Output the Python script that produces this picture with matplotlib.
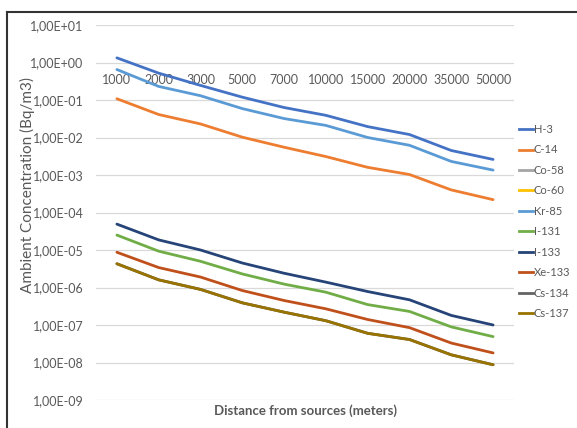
import numpy as np
import matplotlib
matplotlib.use("Agg")
import matplotlib.pyplot as plt
from matplotlib.lines import Line2D

# distances (categories) and concentrations (Bq/m3)
distances = ["1000", "2000", "3000", "5000", "7000", "10000", "15000", "20000", "35000", "50000"]

h3 = [1.33, 0.52, 0.245, 0.119, 0.063, 0.039, 0.0195, 0.012, 0.0045, 0.0026]
c14 = [0.108, 0.041, 0.023, 0.0102, 0.0055, 0.0031, 0.0016, 0.00103, 0.00040, 0.00022]
co58 = [np.nan] * 10
co60 = [np.nan] * 10
kr85 = [0.65, 0.23, 0.13, 0.059, 0.032, 0.021, 0.010, 0.0062, 0.0023, 0.00135]
i131 = [2.5e-5, 9.3e-6, 5.0e-6, 2.3e-6, 1.23e-6, 7.5e-7, 3.5e-7, 2.3e-7, 8.9e-8, 4.9e-8]
i133 = [4.9e-5, 1.86e-5, 1.0e-5, 4.5e-6, 2.4e-6, 1.39e-6, 7.8e-7, 4.7e-7, 1.8e-7, 1.0e-7]
xe133 = [8.7e-6, 3.4e-6, 1.9e-6, 8.3e-7, 4.5e-7, 2.7e-7, 1.4e-7, 8.5e-8, 3.3e-8, 1.8e-8]
cs134 = [4.3e-6, 1.6e-6, 8.9e-7, 3.9e-7, 2.2e-7, 1.3e-7, 6.0e-8, 4.1e-8, 1.6e-8, 8.7e-9]
cs137 = [4.3e-6, 1.6e-6, 8.9e-7, 3.9e-7, 2.2e-7, 1.3e-7, 6.0e-8, 4.1e-8, 1.6e-8, 8.7e-9]

names = ["H-3", "C-14", "Co-58", "Co-60", "Kr-85", "I-131", "I-133", "Xe-133", "Cs-134", "Cs-137"]
series = [h3, c14, co58, co60, kr85, i131, i133, xe133, cs134, cs137]
colors = ["#4472C4", "#ED7D31", "#A5A5A5", "#FFC000", "#5B9BD5",
          "#70AD47", "#264478", "#C0501B", "#636363", "#997300"]

plt.rcParams["font.family"] = ["Lato", "DejaVu Sans"]

fig = plt.figure(figsize=(5.77, 4.28), dpi=100)
ax = fig.add_axes([96 / 577, 1 - 400 / 428, 418 / 577, 375 / 428])

x = np.arange(len(distances))
handles = []
for name, vals, col in zip(names, series, colors):
    ax.plot(x, vals, color=col, lw=2, solid_capstyle="round")
    handles.append(Line2D([], [], color=col, lw=2, label=name))

ax.set_yscale("log")
ax.set_ylim(1e-9, 1e1)
ax.set_xlim(-0.5, len(distances) - 0.5)
ax.set_yticks([10.0 ** k for k in range(-9, 2)])
ax.minorticks_off()
ax.yaxis.set_major_formatter(plt.FuncFormatter(
    lambda v, p: ("%.2E" % v).replace(".", ",")))
ax.tick_params(axis="y", length=0, pad=9, labelsize=9, labelcolor="#595959")
ax.grid(axis="y", color="#D9D9D9", lw=0.9)
ax.set_axisbelow(True)

# category axis crosses at 1
ax.spines["bottom"].set_position(("data", 1))
for s in ax.spines.values():
    s.set_visible(False)
ax.set_xticks(x)
ax.set_xticklabels(distances)
ax.tick_params(axis="x", length=0, pad=8, labelsize=9, labelcolor="#595959")

fig.text(305 / 577, 1 - 411 / 428, "Distance from sources (meters)", ha="center", va="center",
         fontsize=9.5, fontweight="bold", color="#595959")
fig.text(27 / 577, 1 - 185 / 428, "Ambient Concentration (Bq/m3)", ha="center", va="center",
         rotation=90, fontsize=11, color="#595959")

fig.legend(handles=handles, loc="upper left", bbox_to_anchor=(519 / 577, 1 - 124 / 428),
           frameon=False, fontsize=8, handlelength=1.3, handletextpad=0.05,
           labelspacing=0.85, labelcolor="#595959", borderaxespad=0, borderpad=0)

# outer frame (left and top edges visible)
fig.add_artist(Line2D([7 / 577, 7 / 577], [0, 1 - 12 / 428], color="#333333", lw=1.5,
                      transform=fig.transFigure))
fig.add_artist(Line2D([7 / 577, 1], [1 - 12 / 428, 1 - 12 / 428], color="#333333", lw=1.5,
                      transform=fig.transFigure))

fig.savefig("out.png", dpi=100)
